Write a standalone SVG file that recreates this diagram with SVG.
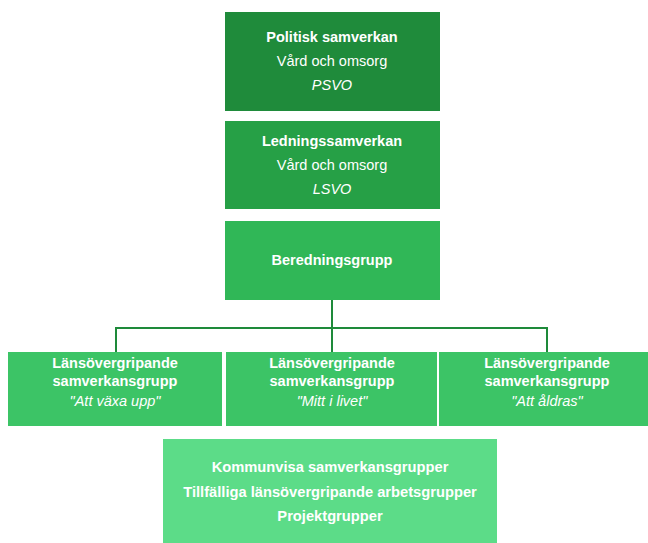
<svg xmlns="http://www.w3.org/2000/svg" width="648" height="543" viewBox="0 0 648 543">
<style>
text{font-family:"Liberation Sans",Arial,sans-serif;fill:#fff;text-anchor:middle;font-size:14.5px}
.b{font-weight:bold}
.i{font-style:italic}
.s{font-size:14.7px}
.c{stroke:#1e8a3a;stroke-width:2;fill:none}
</style>
<rect width="648" height="543" fill="#fff"/>
<g id="connectors">
<path class="c" d="M332 300V328M116 328H547M116 327V352M332 328V352M547 327V352"/>
</g>
<g id="psvo">
<rect x="225" y="12" width="215" height="99" fill="#1f8b3b"/>
<text x="332" y="42" class="b">Politisk samverkan</text>
<text x="332" y="66">Vård och omsorg</text>
<text x="332" y="90" class="i">PSVO</text>
</g>
<g id="lsvo">
<rect x="225" y="121" width="215" height="88" fill="#26a046"/>
<text x="332" y="146" class="b">Ledningssamverkan</text>
<text x="332" y="170">Vård och omsorg</text>
<text x="332" y="194" class="i">LSVO</text>
</g>
<g id="beredning">
<rect x="225" y="221" width="215" height="79" fill="#30b757"/>
<text x="332" y="265" class="b">Beredningsgrupp</text>
</g>
<g id="vaxa">
<rect x="8" y="352" width="214" height="74" fill="#3cc466"/>
<text x="115" y="368" class="b">Länsövergripande</text>
<text x="115" y="386" class="b">samverkansgrupp</text>
<text x="115" y="406" class="i">"Att växa upp"</text>
</g>
<g id="mitt">
<rect x="226" y="352" width="211" height="74" fill="#3cc466"/>
<text x="332" y="368" class="b">Länsövergripande</text>
<text x="332" y="386" class="b">samverkansgrupp</text>
<text x="332" y="406" class="i">"Mitt i livet"</text>
</g>
<g id="aldras">
<rect x="439" y="352" width="209" height="74" fill="#3cc466"/>
<text x="547" y="368" class="b">Länsövergripande</text>
<text x="547" y="386" class="b">samverkansgrupp</text>
<text x="547" y="406" class="i">"Att åldras"</text>
</g>
<g id="ovriga">
<rect x="163" y="439" width="334" height="104" fill="#5cdc88"/>
<text x="330" y="472" class="b s">Kommunvisa samverkansgrupper</text>
<text x="330" y="497" class="b s">Tillfälliga länsövergripande arbetsgrupper</text>
<text x="330" y="521" class="b s">Projektgrupper</text>
</g>
</svg>
